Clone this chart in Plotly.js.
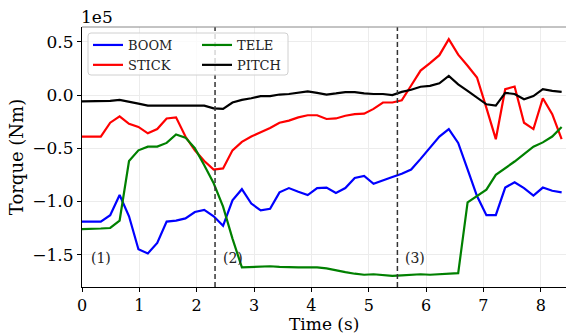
<!DOCTYPE html>
<html>
<head>
<meta charset="utf-8">
<script src="https://cdn.plot.ly/plotly-3.0.1.min.js"></script>
<style>html,body{margin:0;padding:0;background:#fff;}#chart{width:566px;height:333px;}</style>
</head>
<body>
<div id="chart"></div>
<script>
// Time (s)
const time = [0, 0.164, 0.328, 0.492, 0.656, 0.82, 0.984, 1.148, 1.312, 1.476,
  1.64, 1.804, 1.968, 2.132, 2.296, 2.46, 2.624, 2.788, 2.952, 3.116,
  3.28, 3.444, 3.608, 3.772, 3.936, 4.1, 4.264, 4.428, 4.592, 4.756,
  4.92, 5.084, 5.248, 5.412, 5.576, 5.74, 5.904, 6.068, 6.232, 6.396,
  6.56, 6.724, 6.888, 7.052, 7.216, 7.38, 7.544, 7.708, 7.872, 8.036,
  8.2, 8.364];
// Torque values in units of 1e5 Nm
const boom = [-1.19, -1.19, -1.19, -1.13, -0.94, -1.14, -1.45, -1.49, -1.39, -1.19,
  -1.18, -1.16, -1.10, -1.08, -1.14, -1.23, -0.99, -0.885, -1.02, -1.085,
  -1.07, -0.915, -0.875, -0.91, -0.94, -0.875, -0.87, -0.92, -0.875, -0.78,
  -0.76, -0.835, -0.80, -0.77, -0.74, -0.70, -0.60, -0.50, -0.39, -0.32,
  -0.45, -0.70, -0.95, -1.13, -1.13, -0.87, -0.82, -0.875, -0.945, -0.87,
  -0.90, -0.915];
const stick = [-0.39, -0.39, -0.39, -0.26, -0.20, -0.27, -0.30, -0.36, -0.32, -0.22,
  -0.21, -0.39, -0.52, -0.62, -0.70, -0.69, -0.52, -0.44, -0.39, -0.35,
  -0.31, -0.26, -0.24, -0.21, -0.19, -0.19, -0.225, -0.22, -0.195, -0.18,
  -0.175, -0.13, -0.07, -0.07, -0.05, 0.09, 0.23, 0.30, 0.375, 0.525,
  0.38, 0.275, 0.165, -0.12, -0.415, 0.055, 0.08, -0.26, -0.32, -0.03,
  -0.18, -0.415];
const tele = [-1.26, -1.26, -1.255, -1.25, -1.18, -0.62, -0.52, -0.485, -0.485, -0.45,
  -0.37, -0.40, -0.50, -0.66, -0.83, -1.05, -1.35, -1.62, -1.615, -1.61,
  -1.61, -1.615, -1.62, -1.62, -1.62, -1.62, -1.63, -1.65, -1.665, -1.68,
  -1.69, -1.685, -1.69, -1.70, -1.695, -1.69, -1.685, -1.69, -1.685, -1.68,
  -1.675, -1.01, -0.95, -0.89, -0.75, -0.69, -0.625, -0.555, -0.485, -0.445,
  -0.39, -0.30];
const pitch = [-0.06, -0.06, -0.06, -0.055, -0.045, -0.06, -0.08, -0.10, -0.10, -0.095,
  -0.095, -0.10, -0.10, -0.10, -0.125, -0.13, -0.07, -0.045, -0.03, -0.01,
  -0.01, 0.005, 0.01, 0.02, 0.035, 0.02, 0.005, 0.015, 0.028, 0.028,
  0.015, 0.01, 0.01, 0.0, 0.03, 0.05, 0.078, 0.087, 0.11, 0.18,
  0.10, 0.04, -0.02, -0.087, -0.10, 0.02, 0.01, -0.04, -0.01, 0.056,
  0.04, 0.03];
const seriesNames = ['BOOM', 'STICK', 'TELE', 'PITCH'];
const eventTimes = [2.32, 5.5];
const phaseLabels = ['(1)', '(2)', '(3)'];
const phaseX = [0.12, 2.43, 5.6];
const phaseY = -1.53;
const xTicks = [0, 1, 2, 3, 4, 5, 6, 7, 8];
const yTicks = [-1.5, -1.0, -0.5, 0.0, 0.5];
const xTitle = 'Time (s)';
const yTitle = 'Torque (Nm)';

const FONT = 'DejaVu Serif, Liberation Serif, serif';
const colors = ['#0000ff', '#ff0000', '#008000', '#000000'];
const values = [boom, stick, tele, pitch];
const legendIds = ['legend', 'legend', 'legend2', 'legend2'];

const traces = values.map((v, i) => ({
  x: time, y: v, type: 'scatter', mode: 'lines', name: seriesNames[i],
  line: {color: colors[i], width: 2.2},
  legend: legendIds[i]
}));

const shapes = eventTimes.map(t => ({
  type: 'line', xref: 'x', yref: 'paper', x0: t, x1: t, y0: 0, y1: 1,
  line: {color: '#333', width: 1.5, dash: '5px,3px'}
}));
// top spine
shapes.push({type: 'line', xref: 'paper', yref: 'paper', x0: 0, x1: 1, y0: 1, y1: 1,
  line: {color: '#888', width: 1}});
// legend frame (rounded)
(function(){
  const W = 484, H = 260;
  const L = (88 - 82) / W, R = (288 - 82) / W, T = (287 - 33) / H, B = (287 - 75) / H;
  const rx = 3 / W, ry = 3 / H;
  const p = `M ${L+rx},${T} L ${R-rx},${T} Q ${R},${T} ${R},${T-ry} L ${R},${B+ry} Q ${R},${B} ${R-rx},${B} L ${L+rx},${B} Q ${L},${B} ${L},${B+ry} L ${L},${T-ry} Q ${L},${T} ${L+rx},${T} Z`;
  shapes.push({type: 'path', xref: 'paper', yref: 'paper', path: p,
    fillcolor: 'rgba(255,255,255,0.8)', line: {color: '#d0d0d0', width: 1}, layer: 'above'});
})();

const annotations = phaseLabels.map((s, i) => ({
  x: phaseX[i], y: phaseY, xref: 'x', yref: 'y', text: s, showarrow: false,
  xanchor: 'left', yanchor: 'middle', font: {family: FONT, size: 14, color: '#222'}
}));
annotations.push({x: 0, y: 1, xref: 'paper', yref: 'paper', text: '1e5', showarrow: false,
  xanchor: 'left', yanchor: 'bottom', xshift: -3, yshift: -2, font: {family: FONT, size: 17, color: '#000'}});
// x-axis title placed just below the tick labels
annotations.push({x: 0.5, y: (287 - 333) / 260, xref: 'paper', yref: 'paper', text: xTitle, showarrow: false,
  xanchor: 'center', yanchor: 'bottom', borderpad: 0, yshift: -2, font: {family: FONT, size: 17, color: '#000'}});

const layout = {
  width: 566, height: 333,
  margin: {l: 82, r: 0, t: 27, b: 46},
  paper_bgcolor: '#fff', plot_bgcolor: '#fff',
  font: {family: FONT, color: '#000'},
  showlegend: true,
  xaxis: {
    range: [0, 8.44], tickvals: xTicks, ticktext: xTicks.map(String),
    ticks: 'outside', ticklen: 4, tickcolor: '#000', tickwidth: 1,
    showline: true, linecolor: '#000', linewidth: 1,
    showgrid: true, gridcolor: '#ececec', gridwidth: 1, zeroline: false,
    tickfont: {family: FONT, size: 16, color: '#000'},
    automargin: false
  },
  yaxis: {
    range: [-1.805, 0.64], tickvals: yTicks, tickformat: '.1f',
    ticks: 'outside', ticklen: 4, tickcolor: '#000', tickwidth: 1,
    showline: true, linecolor: '#000', linewidth: 1,
    showgrid: true, gridcolor: '#ececec', gridwidth: 1, zeroline: false,
    tickfont: {family: FONT, size: 17, color: '#000'},
    title: {text: yTitle, font: {family: FONT, size: 18, color: '#000'}, standoff: 4},
    automargin: false
  },
  legend: {x: (88 - 82) / 484, y: (287 - 30) / 260, xanchor: 'left', yanchor: 'top',
    bgcolor: 'rgba(0,0,0,0)', borderwidth: 0, tracegroupgap: 0,
    font: {family: FONT, size: 13, color: '#222'}},
  legend2: {x: (197 - 82) / 484, y: (287 - 30) / 260, xanchor: 'left', yanchor: 'top',
    bgcolor: 'rgba(0,0,0,0)', borderwidth: 0, tracegroupgap: 0,
    font: {family: FONT, size: 13, color: '#222'}},
  shapes: shapes,
  annotations: annotations
};

Plotly.newPlot('chart', traces, layout, {displayModeBar: false, staticPlot: true});
</script>
</body>
</html>
